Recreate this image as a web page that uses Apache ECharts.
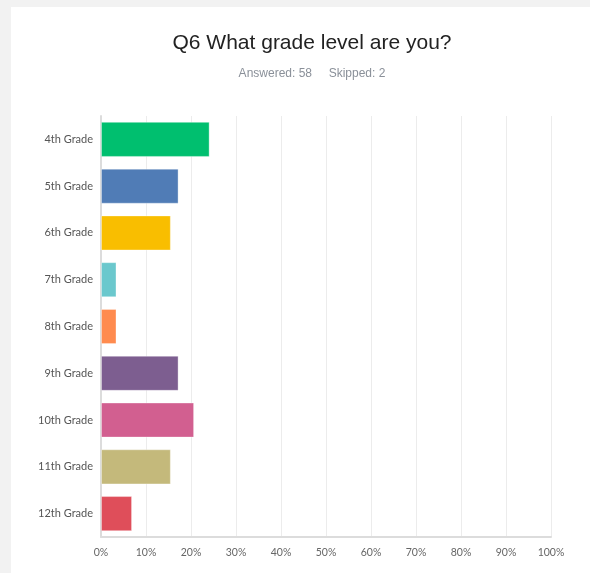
<!DOCTYPE html>
<html>
<head>
<meta charset="utf-8">
<script src="https://cdn.jsdelivr.net/npm/echarts@6/dist/echarts.min.js"></script>
<style>
	html, body { margin: 0; padding: 0; background: #f2f2f2; }
	#main { width: 590px; height: 573px; }
</style>
</head>
<body>
<div id="main"></div>
<script>
// 年级 / 百分比（58 人作答）
var grades = ['4th Grade', '5th Grade', '6th Grade', '7th Grade', '8th Grade',
	'9th Grade', '10th Grade', '11th Grade', '12th Grade'];
var percents = [24.14, 17.24, 15.52, 3.45, 3.45, 17.24, 20.69, 15.52, 6.90];
var barColors = ['#00bf6f', '#507cb6', '#f9be00', '#6bc8cd', '#ff8b4f',
	'#7d5e90', '#d25f90', '#c4b97b', '#df4e5a'];

var chart = echarts.init(document.getElementById('main'));

var option = {
	backgroundColor: '#f2f2f2',
	graphic: [{
		type: 'rect',
		z: -10,
		shape: { x: 11, y: 7, width: 580, height: 570 },
		style: { fill: '#ffffff' }
	}],
	title: {
		text: 'Q6 What grade level are you?',
		subtext: 'Answered: 58     Skipped: 2',
		left: 307,
		textAlign: 'center',
		top: 28,
		itemGap: 14,
		textStyle: {
			color: '#222',
			fontSize: 21,
			fontWeight: 'normal',
			fontFamily: 'Liberation Sans'
		},
		subtextStyle: {
			color: '#8a9099',
			fontSize: 12,
			fontFamily: 'Liberation Sans'
		}
	},
	grid: {
		left: 101,
		right: 39,
		top: 116,
		bottom: 36
	},
	xAxis: {
		type: 'value',
		min: 0,
		max: 100,
		interval: 10,
		axisLine: { show: true, lineStyle: { color: '#dcdcdc', width: 2 } },
		axisTick: { show: false },
		splitLine: { show: true, lineStyle: { color: '#ececec' } },
		axisLabel: {
			formatter: '{value}%',
			color: '#666',
			fontSize: 10.5,
			fontFamily: 'Lato',
			margin: 10
		}
	},
	yAxis: {
		type: 'category',
		inverse: true,
		data: grades,
		axisLine: { show: true, lineStyle: { color: '#dcdcdc', width: 2 } },
		axisTick: { show: false },
		axisLabel: {
			color: '#555',
			fontSize: 11,
			fontFamily: 'Lato',
			margin: 8
		}
	},
	series: [{
		type: 'bar',
		data: percents.map(function (v, i) {
			return {
				value: v,
				itemStyle: { color: barColors[i] }
			};
		}),
		barCategoryGap: '25%',
		itemStyle: {
			borderColor: 'rgba(255,255,255,0.35)',
			borderWidth: 1
		},
		animation: false
	}]
};

chart.setOption(option);

window.onresize = function () {
	chart.resize();
};
</script>
</body>
</html>
